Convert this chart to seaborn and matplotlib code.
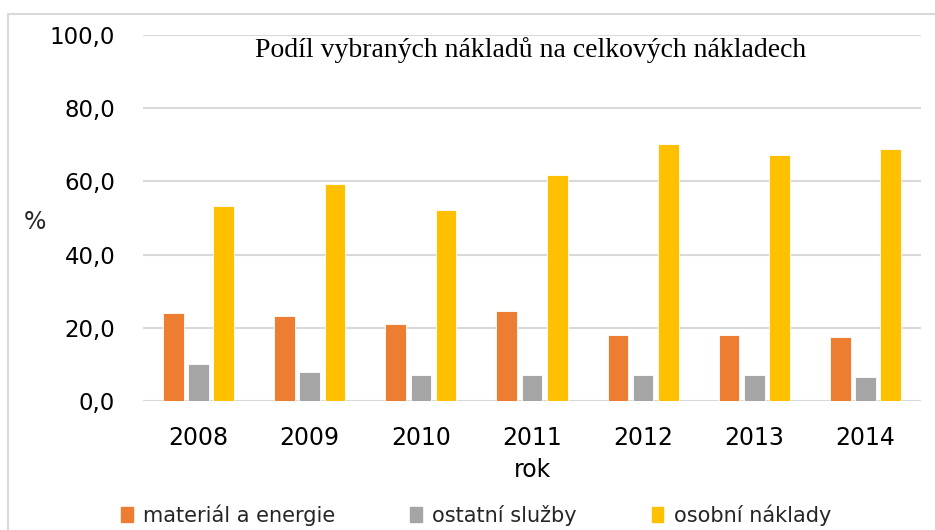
import matplotlib
matplotlib.use("Agg")
import matplotlib.pyplot as plt
import pandas as pd
import seaborn as sns
from matplotlib.patches import Rectangle

years = ["2008", "2009", "2010", "2011", "2012", "2013", "2014"]
series = ["materiál a energie", "ostatní služby", "osobní náklady"]
material = [24.0, 23.3, 21.0, 24.6, 18.0, 18.0, 17.5]
sluzby = [10.2, 7.8, 7.2, 7.2, 7.2, 7.2, 6.6]
osobni = [53.4, 59.3, 52.2, 61.7, 70.2, 67.1, 68.9]
colors = ["#ED7D31", "#A5A5A5", "#FFC000"]

rows = []
for name, vals in zip(series, [material, sluzby, osobni]):
    for y, v in zip(years, vals):
        rows.append({"rok": y, "serie": name, "value": v})
frame = pd.DataFrame(rows)

sns.set_theme(style="white")
plt.rcParams["font.family"] = ["DejaVu Sans"]

fig = plt.figure(figsize=(9.35, 5.3), dpi=100)
ax = fig.add_axes([143 / 935, 129 / 530, 778 / 935, 366 / 530])

sns.barplot(data=frame, x="rok", y="value", hue="serie", palette=colors, saturation=1,
            width=0.68, gap=0.18, edgecolor="white", linewidth=0.6, ax=ax)

ax.set_ylim(0, 100)
ax.set_yticks([0, 20, 40, 60, 80, 100])
ax.set_yticklabels([f"{t:.1f}".replace(".", ",") for t in [0, 20, 40, 60, 80, 100]])
ax.yaxis.grid(True, color="#d9d9d9", linewidth=1.5)
ax.set_axisbelow(True)
for s in ax.spines.values():
    s.set_visible(False)
ax.tick_params(axis="y", length=0, pad=20, labelsize=16.5, labelcolor="black")
ax.tick_params(axis="x", length=0, pad=18, labelsize=17, labelcolor="black")
ax.set_xlabel("rok", fontsize=17, color="black", labelpad=6)
ax.set_ylabel("")
fig.text(35 / 935, 1 - 222 / 530, "%", fontsize=17, ha="center", va="center")

fig.text(531 / 935, 1 - 50 / 530, "Podíl vybraných nákladů na celkových nákladech",
         fontsize=20, color="black", family=["Liberation Serif", "DejaVu Serif"],
         ha="center", va="center")

ax.get_legend().remove()
handles = [Rectangle((0, 0), 1, 1, color=c) for c in colors]
fig.legend(handles, series, loc="center", bbox_to_anchor=(476 / 935, 1 - 515 / 530),
           ncol=3, frameon=False, handlelength=0.55, handleheight=0.7, handletextpad=0.5,
           columnspacing=3.6, prop={"family": ["DejaVu Sans"], "size": 15})

fig.patches.append(Rectangle((8 / 935, -0.1), 1.2, 1 - 14 / 530 + 0.1, transform=fig.transFigure,
                             fill=False, edgecolor="#d9d9d9", linewidth=1.5))

fig.savefig("out.png", dpi=100)
